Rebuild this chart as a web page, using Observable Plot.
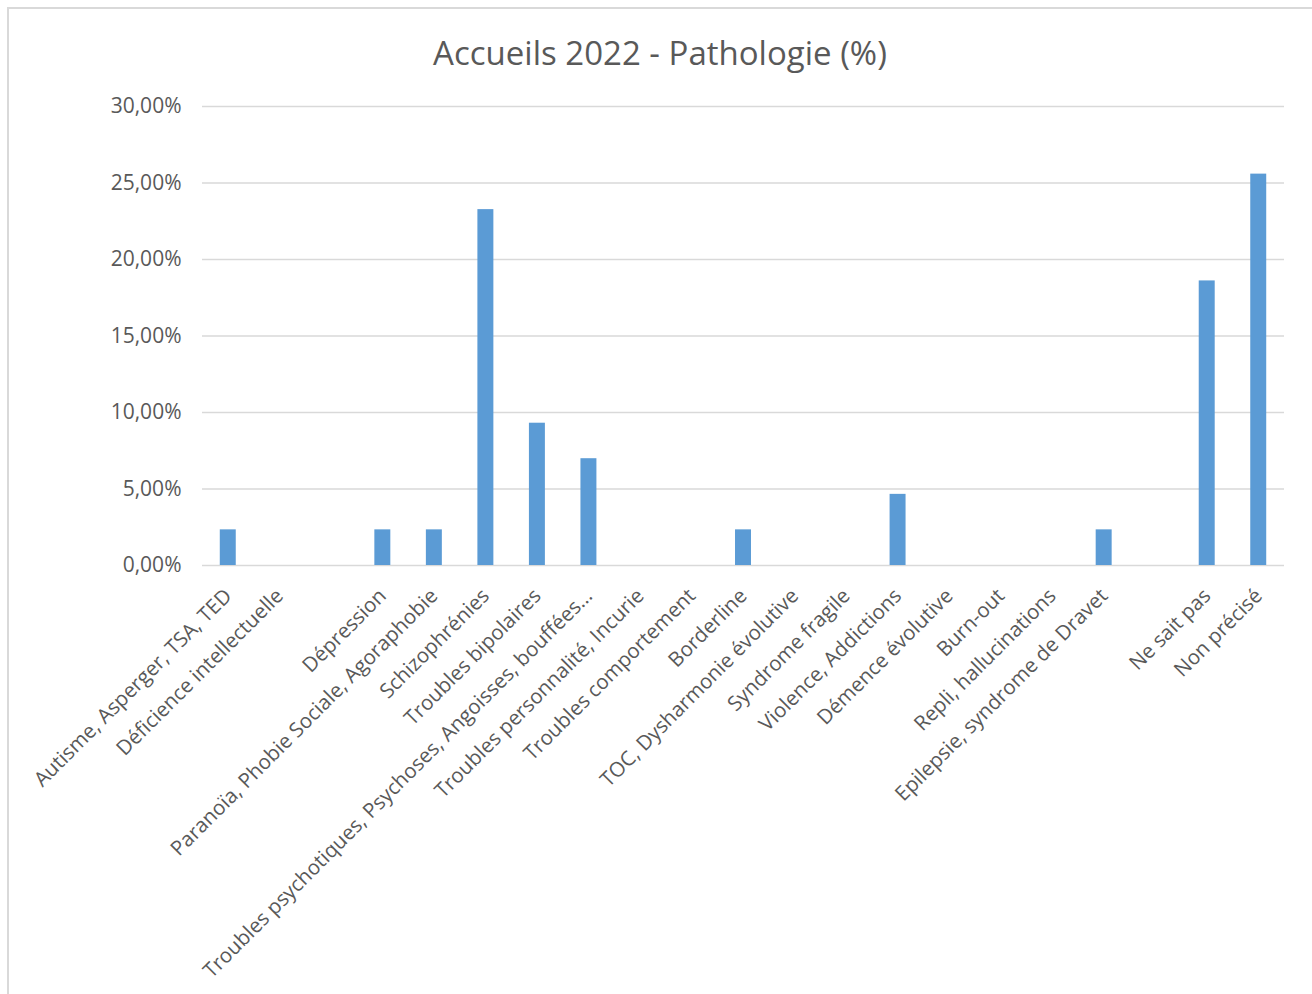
<!DOCTYPE html>
<html>
<head>
<meta charset="utf-8">
<script src="https://cdn.jsdelivr.net/npm/d3@7"></script>
<script src="https://cdn.jsdelivr.net/npm/@observablehq/plot@0.6"></script>
<style>
  html, body { margin: 0; padding: 0; background: #fff; }
  body { width: 1312px; height: 994px; overflow: hidden; position: relative; font-family: "Open Sans", "Noto Sans", sans-serif; }
  #frame { position: absolute; left: 7px; top: 7px; width: 1400px; height: 1100px; border-top: 2px solid #d9d9d9; border-left: 2px solid #d9d9d9; box-sizing: border-box; }
  #title { position: absolute; left: 8px; right: 0; top: 33px; text-align: center; font-size: 33px; color: #595959; line-height: 40px; }
  #chart { position: absolute; left: 0; top: 80px; }
</style>
</head>
<body>
<div id="frame"></div>
<div id="title">Accueils 2022 - Pathologie (%)</div>
<div id="chart"></div>
<script>
const categories = [
  "Autisme, Asperger, TSA, TED",
  "Déficience intellectuelle",
  "",
  "Dépression",
  "Paranoïa, Phobie Sociale, Agoraphobie",
  "Schizophrénies",
  "Troubles bipolaires",
  "Troubles psychotiques, Psychoses, Angoisses, bouffées…",
  "Troubles personnalité, Incurie",
  "Troubles comportement",
  "Borderline",
  "TOC, Dysharmonie évolutive",
  "Syndrome fragile",
  "Violence, Addictions",
  "Démence évolutive",
  "Burn-out",
  "Repli, hallucinations",
  "Epilepsie, syndrome de Dravet",
  "",
  "Ne sait pas",
  "Non précisé"
];
const values = [2.33, 0, 0, 2.33, 2.33, 23.26, 9.30, 6.98, 0, 0, 2.33, 0, 0, 4.65, 0, 0, 0, 2.33, 0, 18.60, 25.58];
const yTicks = [0, 5, 10, 15, 20, 25, 30];

const data = values.map((v, i) => ({i, v}));
const fmt = d => d.toFixed(2).replace(".", ",") + "%";

const chart = Plot.plot({
  width: 1312,
  height: 914,
  marginTop: 26,
  marginBottom: 429,
  marginLeft: 202,
  marginRight: 28,
  style: {fontFamily: "'Open Sans', 'Noto Sans', sans-serif", color: "#595959", background: "transparent"},
  x: {type: "band", domain: d3.range(categories.length), paddingInner: 0.69, paddingOuter: 0.345, round: false},
  y: {domain: [0, 30]},
  marks: [
    Plot.ruleY(yTicks, {stroke: "#d9d9d9", strokeWidth: 1.5}),
    Plot.barY(data, {x: "i", y: "v", fill: "#5b9bd5"}),
    Plot.axisY(yTicks, {tickFormat: fmt, tickSize: 0, tickPadding: 21, fontSize: 21, label: null, fill: "#595959"}),
    Plot.axisX({tickFormat: i => categories[i], tickRotate: -45, tickSize: 0, tickPadding: 27, fontSize: 20.5, label: null, fill: "#595959"})
  ]
});
document.getElementById("chart").appendChild(chart);
</script>
</body>
</html>
